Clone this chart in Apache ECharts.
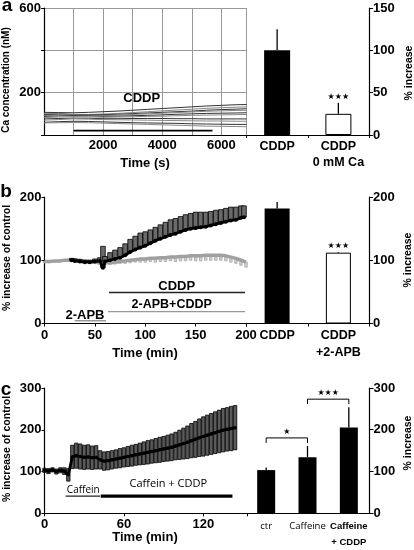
<!DOCTYPE html>
<html><head><meta charset="utf-8">
<script src="https://cdn.jsdelivr.net/npm/echarts@6/dist/echarts.min.js"></script>
<style>html,body{margin:0;padding:0;background:#fff}#c{width:414px;height:550px}</style>
</head><body><div id="c"></div>
<script>
// ---------- Panel a ----------
const aTime = [0,500,1000,1500,2000,2500,3000,3500,4000,4500,5000,5500,6000,6500,6850];
const aTrace1 = [107,106,105,107,110,113,117,121,125,129,133,137,140,143,144];
const aTrace2 = [101,102,98,97,99,102,106,110,114,118,122,126,129,131,133];
const aTrace3 = [96,98,97,95,96,98,101,104,107,110,113,117,120,122,124];
const aTrace4 = [92,95,96,93,92,94,97,100,103,106,109,112,114,116,117];
const aTrace5 = [88,90,92,90,88,89,91,93,95,98,100,102,103,104,105];
const aTrace6 = [82,85,87,86,84,85,86,88,89,91,93,94,95,96,97];
const aTrace7 = [76,78,80,79,77,77,78,78,78,77,77,76,76,76,76];
const aTrace8 = [70,73,76,75,73,72,71,70,69,68,67,66,66,65,65];
const aTrace9 = [60,63,65,64,62,60,58,57,56,55,53,52,51,50,50];
const aTrace10 = [57,58,59,58,56,54,52,50,48,46,44,42,41,40,39];
const aTraces = [aTrace1,aTrace2,aTrace3,aTrace4,aTrace5,aTrace6,aTrace7,aTrace8,aTrace9,aTrace10];
const aCddpPeriod = [1000, 5700];
const aCats = ['CDDP', 'CDDP\n0 mM Ca'];
const aBarVal = [100, 25];
const aBarErr = [25, 13];
const aSig = ['', '★★★'];

// ---------- Panel b ----------
const bGrayTime = [0,5,10,15,20,25,30,35,40,45,50,55,60,65,70,75,80,85,90,95,100,105,110,115,120,125,130,135,140,145,150,155,160,165,170,175,180,185,190,195,200];
const bGrayVal = [98,98,99,99,100,100,101,100,99,98,97,96,96,96,97,98,99,100,101,102,102,103,103,104,104,105,105,106,106,107,107,107,108,108,108,108,107,105,103,100,97];
const bGrayErr = [2,2,2,2,2,2,2,2,2,2,2,3,3,3,3,3,4,4,4,5,5,5,6,6,6,6,7,7,7,7,8,8,8,8,8,8,8,8,8,8,8];
const bBlackTime = [27,30,35,40,45,50,55,58,60,65,70,75,80,85,90,95,100,105,110,115,120,125,130,135,140,145,150,155,160,165,170,175,180,185,190,195,198];
const bBlackVal = [100,99,98,97,97,98,99,88,98,100,102,104,108,113,117,120,123,127,131,134,137,140,142,145,148,150,151,152,153,155,157,159,161,163,164,167,168];
const bBlackErr = [3,3,3,3,3,4,5,34,8,12,14,16,18,20,21,23,22,21,21,22,23,24,24,24,24,24,25,24,23,22,22,21,21,21,20,19,18];
const bCddpPeriod = [64, 199];
const bApbCddpPeriod = [63, 199];
const bApbPeriod = [30, 61];
const bCats = ['CDDP', 'CDDP\n+2-APB'];
const bBarVal = [182, 112];
const bBarErr = [10, 1];
const bSig = ['', '★★★'];

// ---------- Panel c ----------
const cTime = [0,3,6,9,12,15,18,21,24,27,30,33,36,39,42,45,48,51,54,57,60,63,66,69,72,75,78,81,84,87,90,93,96,99,102,105,108,111,114,117,120,123,126,129,132,135,138,141,144];
const cVal = [103,101,104,100,103,101,92,135,138,136,134,135,133,134,128,125,126,128,130,132,134,136,138,140,142,144,146,148,150,152,154,156,158,161,164,167,170,174,177,181,184,187,190,193,196,199,201,203,205];
const cErr = [5,6,5,6,6,8,15,28,30,30,29,29,28,28,22,22,22,22,22,23,23,24,25,25,26,27,28,28,29,30,30,31,32,33,35,37,39,41,43,45,47,48,49,50,51,52,52,53,53];
const cCaffeinPeriod = [16, 42];
const cCddpPeriod = [42.5, 142];
const cCats = ['ctr', 'Caffeine', 'Caffeine\n+ CDDP'];
const cBarVal = [103, 134, 205];
const cBarErr = [6, 27, 49];
const cPairs = [[0, 1], [1, 2]];
const cPairSig = ['★', '★★★'];

// ---------- helpers ----------
const F = 'Liberation Sans';
const R = 'Open Sans';
const zip = (xs, ys) => xs.map((x, i) => [x, ys[i]]);
const zip3 = (xs, ys, es) => xs.map((x, i) => [x, ys[i], es[i]]);
const blk = { color: '#000' };
const lbl = (extra) => Object.assign({ color: '#000', fontFamily: F, fontWeight: 'bold', fontSize: 13, lineHeight: 14 }, extra);
const axLine = { show: true, lineStyle: { color: '#000', width: 1.2 } };
const axTick = (len) => ({ show: true, length: len, lineStyle: { color: '#000', width: 1 } });

function errRender(mode, fill, stroke, w) {
  return function (params, api) {
    const x = api.value(0), y = api.value(1), e = api.value(2);
    let lo = y, hi = y;
    if (mode === 'up') hi = y + e; else if (mode === 'down') lo = y - e; else { lo = y - e; hi = y + e; }
    const p1 = api.coord([x, lo]), p2 = api.coord([x, hi]);
    return { type: 'rect', shape: { x: p1[0] - w / 2, y: p2[1], width: w, height: Math.max(0.5, p1[1] - p2[1]) },
      style: { fill: fill, stroke: stroke, lineWidth: 0.8 } };
  };
}
function barErr(vals, errs, sigs, starSize) {
  return function (params, api) {
    const i = params.dataIndex;
    const p1 = api.coord([i, vals[i]]), p2 = api.coord([i, vals[i] + errs[i]]);
    const ch = [{ type: 'line', shape: { x1: p1[0], y1: p1[1], x2: p2[0], y2: p2[1] }, style: { stroke: '#000', lineWidth: 1.3 } }];
    if (sigs && sigs[i]) ch.push({ type: 'text', style: { text: sigs[i], x: p2[0], y: p2[1] - 2, align: 'center', verticalAlign: 'bottom', font: starSize + 'px "DejaVu Sans"', fill: '#000' } });
    return { type: 'group', children: ch };
  };
}
function bracketRender(params, api) {
  const pr = cPairs[params.dataIndex];
  const a = api.coord([pr[0], cBarVal[pr[0]] + cBarErr[pr[0]]]);
  const b = api.coord([pr[1], cBarVal[pr[1]] + cBarErr[pr[1]]]);
  const yb = Math.min(a[1], b[1]) - 8;
  return { type: 'group', children: [
    { type: 'polyline', shape: { points: [[a[0], yb + 5], [a[0], yb], [b[0], yb], [b[0], yb + 5]] }, style: { stroke: '#000', lineWidth: 1, fill: null } },
    { type: 'text', style: { text: cPairSig[params.dataIndex], x: (a[0] + b[0]) / 2, y: yb - 2, align: 'center', verticalAlign: 'bottom', font: '8px "DejaVu Sans"', fill: '#000' } }
  ] };
}
const period = (p, level, xi, color, width) => ({
  type: 'line', xAxisIndex: xi, yAxisIndex: xi, data: [[p[0], level], [p[1], level]], symbol: 'none', silent: true,
  lineStyle: { color: color, width: width }, z: 5
});

const series = [];
aTraces.forEach((t, k) => series.push({ type: 'line', xAxisIndex: 0, yAxisIndex: 0, data: zip(aTime, t), symbol: 'none', silent: true,
  lineStyle: { color: k % 2 ? '#888' : '#333', width: 1 } }));
series.push(period(aCddpPeriod, 21, 0, '#000', 1.8));
series.push({ type: 'bar', xAxisIndex: 1, yAxisIndex: 1, barWidth: 26,
  data: aBarVal.map((v, i) => ({ value: v, itemStyle: i === 0 ? { color: '#000' } : { color: '#fff', borderColor: '#000', borderWidth: 1 } })) });
series.push({ type: 'custom', xAxisIndex: 1, yAxisIndex: 1, data: aBarVal.map((v, i) => [i, v]), encode: { x: 0, y: 1 }, renderItem: barErr(aBarVal, aBarErr, aSig, 8), z: 4 });

series.push({ type: 'custom', xAxisIndex: 2, yAxisIndex: 2, data: zip3(bGrayTime, bGrayVal, bGrayErr), encode: { x: 0, y: 1 }, renderItem: errRender('down', '#d0d0d0', '#aaa', 2.5), z: 2 });
series.push({ type: 'line', xAxisIndex: 2, yAxisIndex: 2, data: zip(bGrayTime, bGrayVal), symbol: 'none', silent: true, lineStyle: { color: '#a0a0a0', width: 3.5 }, z: 3 });
series.push({ type: 'custom', xAxisIndex: 2, yAxisIndex: 2, data: zip3(bBlackTime, bBlackVal, bBlackErr), encode: { x: 0, y: 1 }, renderItem: errRender('up', '#6a6a6a', '#000', 4.6), z: 4 });
series.push({ type: 'line', xAxisIndex: 2, yAxisIndex: 2, data: zip(bBlackTime, bBlackVal), symbol: 'circle', symbolSize: 4, itemStyle: blk, silent: true, lineStyle: { color: '#000', width: 2.8 }, z: 6 });
series.push(period(bCddpPeriod, 49, 2, '#222', 1.4));
series.push(period(bApbCddpPeriod, 18.7, 2, '#999', 1.4));
series.push(period(bApbPeriod, 4.4, 2, '#999', 1.4));
series.push({ type: 'bar', xAxisIndex: 3, yAxisIndex: 3, barWidth: 25,
  data: bBarVal.map((v, i) => ({ value: v, itemStyle: i === 0 ? { color: '#000' } : { color: '#fff', borderColor: '#000', borderWidth: 1 } })) });
series.push({ type: 'custom', xAxisIndex: 3, yAxisIndex: 3, data: bBarVal.map((v, i) => [i, v]), encode: { x: 0, y: 1 }, renderItem: barErr(bBarVal, bBarErr, bSig, 8), z: 4 });

series.push({ type: 'custom', xAxisIndex: 4, yAxisIndex: 4, data: zip3(cTime, cVal, cErr), encode: { x: 0, y: 1 }, renderItem: errRender('both', '#5a5a5a', '#000', 3.4), z: 2 });
series.push({ type: 'line', xAxisIndex: 4, yAxisIndex: 4, data: zip(cTime, cVal), symbol: 'circle', symbolSize: 3.5, itemStyle: blk, silent: true, lineStyle: { color: '#000', width: 2.8 }, z: 6 });
series.push(period(cCaffeinPeriod, 41, 4, '#222', 1.2));
series.push(period(cCddpPeriod, 41, 4, '#000', 3.2));
series.push({ type: 'bar', xAxisIndex: 5, yAxisIndex: 5, barWidth: 18, itemStyle: { color: '#000' }, data: cBarVal });
series.push({ type: 'custom', xAxisIndex: 5, yAxisIndex: 5, data: cBarVal.map((v, i) => [i, v]), encode: { x: 0, y: 1 }, renderItem: barErr(cBarVal, cBarErr, null, 8), z: 4 });
series.push({ type: 'custom', xAxisIndex: 5, yAxisIndex: 5, data: cPairs.map(p => [p[0], 0]), encode: { x: 0, y: 1 }, renderItem: bracketRender, z: 4 });

const txt = (t, x, y, font, rot) => ({ type: 'text', x: x, y: y, rotation: rot || 0, silent: true,
  style: { text: t, font: font, align: 'center', verticalAlign: 'middle', fill: '#000' } });
const B = (s) => 'bold ' + s + 'px "Liberation Sans"';
const N = (s) => s + 'px "Open Sans"';

const option = {
  animation: false,
  backgroundColor: '#fff',
  textStyle: { fontFamily: F },
  grid: [
    { left: 44, top: 8, width: 202.5, height: 127 },
    { left: 246.5, top: 8, width: 122.5, height: 127 },
    { left: 44.5, top: 197, width: 201.5, height: 126.5 },
    { left: 246.5, top: 197, width: 122.5, height: 126.5 },
    { left: 44.5, top: 388, width: 202.5, height: 125.3 },
    { left: 245.5, top: 388, width: 124, height: 125.3 }
  ],
  xAxis: [
    { gridIndex: 0, type: 'value', min: 0, max: 6850, interval: 1000, axisLine: axLine, axisTick: { show: false },
      splitLine: { show: true, lineStyle: { color: '#999', width: 1 } },
      axisLabel: lbl({ margin: 3, formatter: v => (v > 0 && v % 2000 === 0) ? String(v) : '' }) },
    { gridIndex: 1, type: 'category', data: aCats, axisLine: axLine, axisTick: axTick(3),
      axisLabel: lbl({ interval: 0, margin: 4, lineHeight: 16, fontSize: 12.5 }) },
    { gridIndex: 2, type: 'value', min: 0, max: 200, interval: 50, axisLine: axLine, axisTick: axTick(3), splitLine: { show: false },
      axisLabel: lbl({ margin: 5 }) },
    { gridIndex: 3, type: 'category', data: bCats, axisLine: axLine, axisTick: axTick(3),
      axisLabel: lbl({ interval: 0, margin: 4, lineHeight: 17, fontSize: 12.5 }) },
    { gridIndex: 4, type: 'value', min: 0, max: 153, interval: 60, axisLine: axLine, axisTick: axTick(3), splitLine: { show: false },
      axisLabel: lbl({ margin: 4.5, formatter: v => (v % 60 === 0) ? String(v) : '' }) },
    { gridIndex: 5, type: 'category', data: cCats, axisLine: axLine, axisTick: { show: false },
      axisLabel: { interval: 0, margin: 5, lineHeight: 16, color: '#000',
        formatter: (v, i) => i === 2 ? '{b|Caffeine}\n{b|+ CDDP}' : '{r|' + v + '}',
        rich: { r: { fontFamily: R, fontSize: 9.5, lineHeight: 16, color: '#000' }, b: { fontFamily: F, fontWeight: 'bold', fontSize: 9.5, lineHeight: 16, color: '#000' } } } }
  ],
  yAxis: [
    { gridIndex: 0, type: 'value', min: 0, max: 600, interval: 200, axisLine: axLine, axisTick: axTick(3),
      splitLine: { show: true, lineStyle: { color: '#999', width: 1 } },
      axisLabel: lbl({ margin: 3, formatter: v => (v === 600 || v === 200) ? String(v) : '' }) },
    { gridIndex: 1, type: 'value', position: 'right', min: 0, max: 150, interval: 50, axisLine: axLine, axisTick: axTick(4), splitLine: { show: false },
      axisLabel: lbl({ margin: 4 }) },
    { gridIndex: 2, type: 'value', min: 0, max: 200, interval: 100, axisLine: axLine, axisTick: axTick(3), splitLine: { show: false },
      axisLabel: lbl({ margin: 3 }) },
    { gridIndex: 3, type: 'value', position: 'right', min: 0, max: 200, interval: 100, axisLine: axLine, axisTick: axTick(4), splitLine: { show: false },
      axisLabel: lbl({ margin: 4 }) },
    { gridIndex: 4, type: 'value', min: 0, max: 300, interval: 100, axisLine: axLine, axisTick: axTick(3), splitLine: { show: false },
      axisLabel: lbl({ margin: 3 }) },
    { gridIndex: 5, type: 'value', position: 'right', min: 0, max: 300, interval: 100, axisLine: axLine, axisTick: axTick(4), splitLine: { show: false },
      axisLabel: lbl({ margin: 4 }) }
  ],
  series: series,
  graphic: [
    txt('a', 7, 6, B(19)), txt('b', 6, 192, B(19)), txt('c', 6, 390, B(19)),
    txt('Ca concentration (nM)', 6.5, 80, B(10), Math.PI / 2),
    txt('% increase of control', 7.5, 258, B(10.5), Math.PI / 2),
    txt('% increase of control', 7.5, 449, B(10.5), Math.PI / 2),
    txt('% increase', 409, 73, B(10.5), Math.PI / 2),
    txt('% increase', 408, 260, B(10.5), Math.PI / 2),
    txt('% increase', 408, 443, B(10.5), Math.PI / 2),
    txt('Time (s)', 145, 163, B(13)),
    txt('Time (min)', 145, 353, B(13)),
    txt('Time (min)', 145, 537, B(13)),
    txt('CDDP', 141.7, 98.5, B(13)),
    txt('CDDP', 176.7, 286, B(13)),
    txt('2-APB+CDDP', 171.7, 305, B(12.5)),
    txt('2-APB', 85, 315.5, B(13)),
    txt('Caffein', 83.3, 490.5, N(10)),
    txt('Caffein + CDDP', 168.3, 483.5, N(11))
  ]
};
const chart = echarts.init(document.getElementById('c'));
chart.setOption(option);
</script>
</body></html>
